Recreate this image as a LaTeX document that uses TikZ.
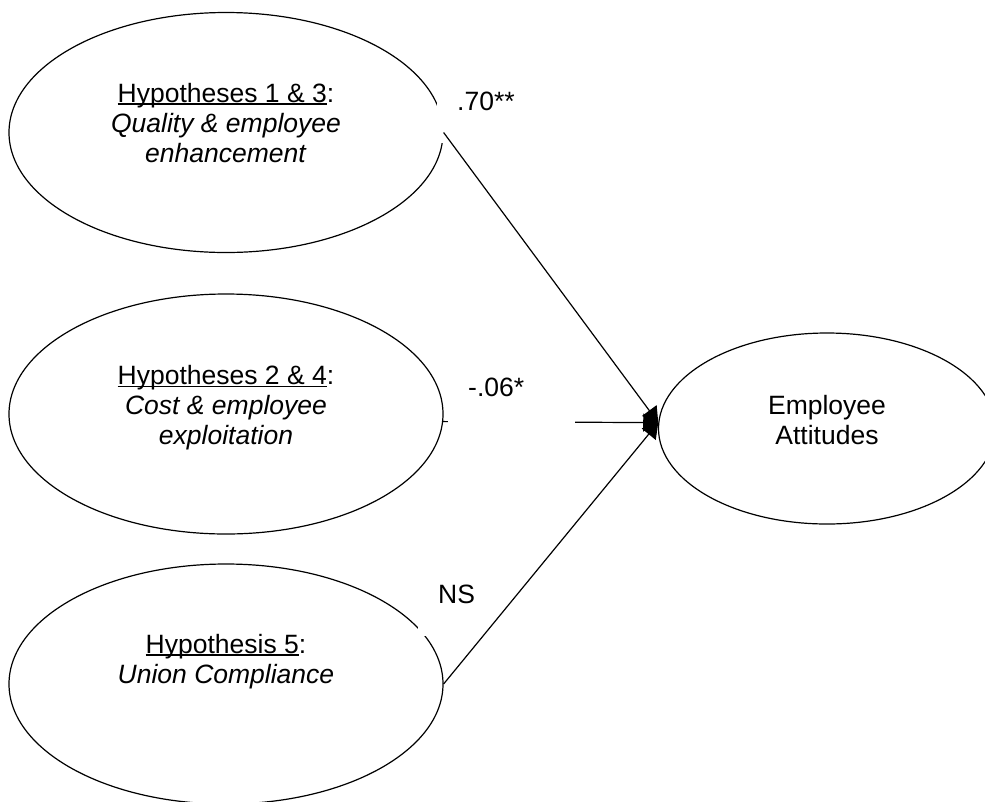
\documentclass[tikz,border=0pt]{standalone}
\usepackage{fontspec}
\setmainfont{Liberation Sans}
\usetikzlibrary{shapes.geometric,arrows.meta}

\newcommand{\undl}[1]{\setbox0=\hbox{#1}\rlap{\rule[-2.6pt]{\wd0}{1.3pt}}\box0}

\begin{document}
\begin{tikzpicture}[x=1pt,y=-1pt,
  every node/.style={font=\fontsize{26.5}{30}\selectfont},
  hypo/.style={ellipse, draw, line width=1.2pt, minimum width=434pt, minimum height=240pt, inner sep=0pt},
  result/.style={ellipse, draw, line width=1.2pt, minimum width=337pt, minimum height=191pt, inner sep=0pt},
  txt/.style={align=center, inner sep=0pt, anchor=base},
  coef/.style={fill=white, inner sep=0pt, inner xsep=20pt, text width=87pt, align=left, text height=30pt, text depth=33pt, anchor=base west},
  conn/.style={line width=1.2pt, -{Triangle[length=15pt,width=18pt]}}]
\useasboundingbox (0,0) rectangle (985,801);
\node[hypo] (h1) at (226,132.5) {};
\node[hypo] (h2) at (226,414) {};
\node[hypo] (h3) at (226,684) {};
\node[result] (att) at (827,428.5) {};
\node[txt] (t1) at (226,162) {\undl{Hypotheses 1 \& 3}:\\ \textit{Quality \& employee}\\ \textit{enhancement}};
\node[txt] (t2) at (226,444.5) {\undl{Hypotheses 2 \& 4}:\\ \textit{Cost \& employee}\\ \textit{exploitation}};
\node[txt] (t3) at (226,683) {\undl{Hypothesis 5}:\\ \textit{Union Compliance}};
\node[txt] (tatt) at (827,444) {Employee\\ Attitudes};
\draw[conn] (h2.-2) -- (att.178);
\node[coef] (c1) at (437,110) {.70**};
\node[coef] (c2) at (448,396) {-.06*};
\node[coef] (c3) at (418,603) {NS};
\draw[conn] (h1.east) -- (att.178);
\draw[conn] (h3.east) -- (att.178);
\end{tikzpicture}
\end{document}
